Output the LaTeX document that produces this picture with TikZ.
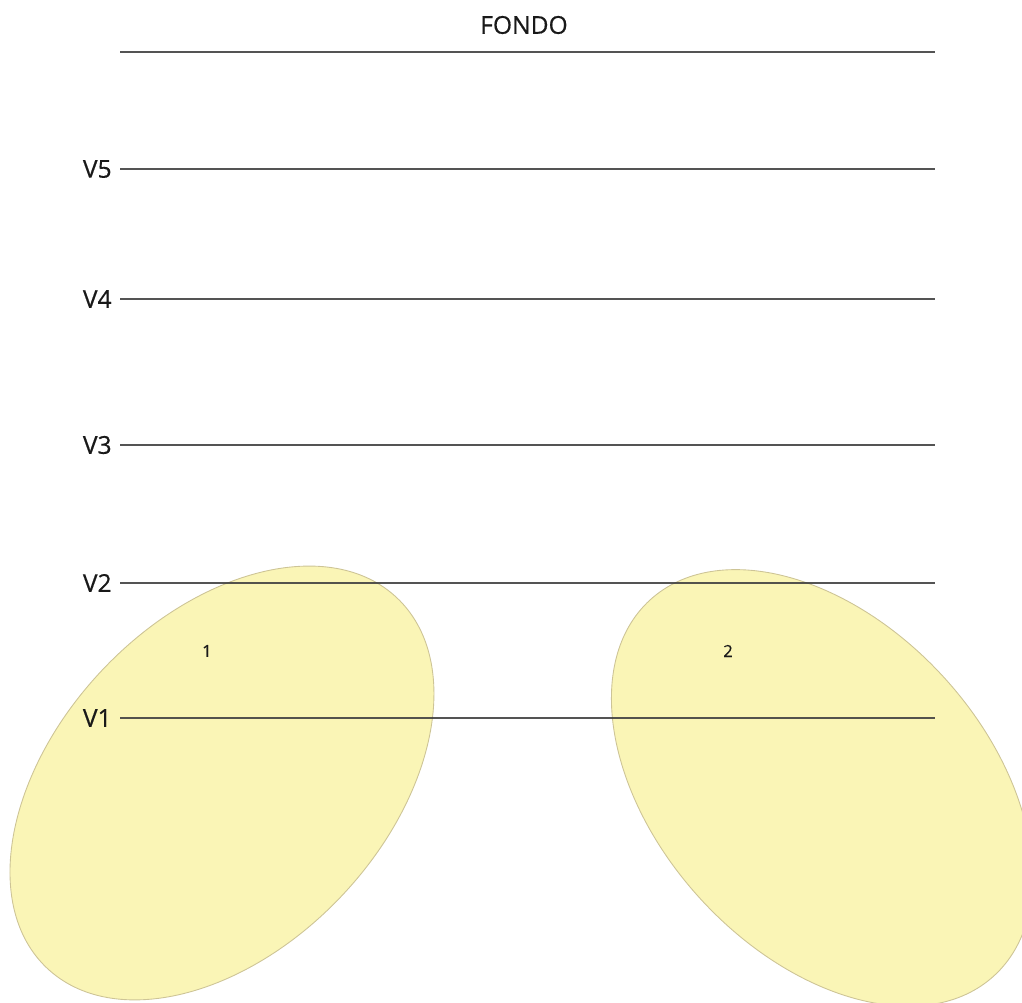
\documentclass[tikz,border=0pt]{standalone}
\usepackage{fontspec}
\setmainfont{Open Sans}
\newfontfamily\labfont[FakeBold=0.5]{Open Sans}
\usepackage{tikz}
\usetikzlibrary{positioning}

\definecolor{linegray}{RGB}{65,65,65}
\definecolor{bubblefill}{RGB}{250,245,182}
\definecolor{bubbleedge}{RGB}{205,196,150}
\definecolor{textblack}{RGB}{25,25,25}

\begin{document}
\begin{tikzpicture}[x=0.02cm, y=-0.02cm,
    level/.style={draw=linegray, line width=1.2pt, draw opacity=0.9},
    bubble/.style={fill=bubblefill, draw=bubbleedge, line width=0.5pt},
    lab/.style={font=\labfont\fontsize{14}{16}\selectfont, text=textblack, inner sep=0pt},
    num/.style={font=\labfont\fontsize{9.5}{11}\selectfont, text=textblack, inner sep=0pt}]
    \useasboundingbox (0,0) rectangle (1022,1003);
    % the two yellow regions
    \coordinate (c1) at (222,783);
    \coordinate (c2) at (822,788);
    \draw[bubble, rotate around={46.6:(c1)}] (c1) ellipse [x radius=5.096cm, y radius=3.292cm];
    \draw[bubble, rotate around={-47.5:(c2)}] (c2) ellipse [x radius=5.096cm, y radius=3.292cm];
    % horizontal levels
    \foreach \name/\y in {fondo/52, v5/169, v4/299, v3/445, v2/583, v1/718} {
        \coordinate (\name a) at (120,\y);
        \coordinate (\name b) at (935,\y);
        \draw[level] (\name a) -- (\name b);
    }
    \node (fondo) [lab] at (524,25) {FONDO};
    \node (lv5) [lab, left=0.16cm of v5a] {V5};
    \node (lv4) [lab, left=0.16cm of v4a] {V4};
    \node (lv3) [lab, left=0.16cm of v3a] {V3};
    \node (lv2) [lab, left=0.16cm of v2a] {V2};
    \node (lv1) [lab, left=0.16cm of v1a] {V1};
    \node (n1) [num] at (207,651) {1};
    \node (n2) [num] at (728,651) {2};
\end{tikzpicture}
\end{document}
